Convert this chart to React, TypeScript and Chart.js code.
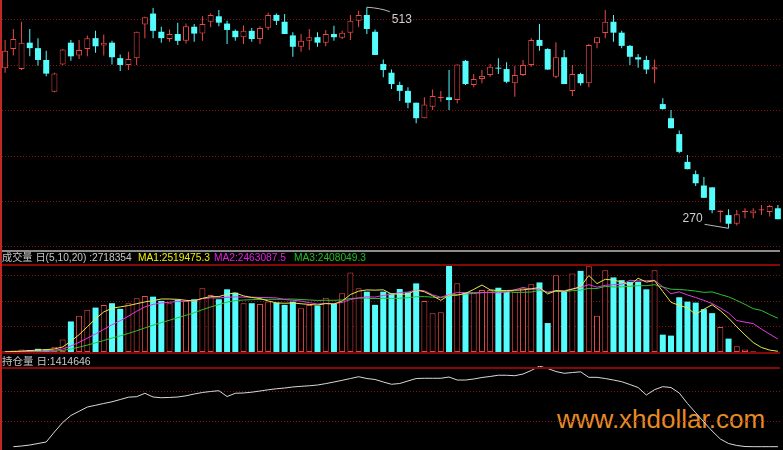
import React, { useEffect, useRef } from "react";
import { Chart, registerables } from "chart.js";

Chart.register(...registerables);

// ---------- data ----------
const OPEN = [
  446, 467, 445, 474, 468, 455, 420, 450, 474, 460,
  467, 479, 471, 474, 457, 449.5, 457, 494, 506, 486,
  478, 483.5, 476, 491.5, 484, 497, 503, 495, 487, 480,
  487, 478, 490.5, 504.5, 497, 482, 469.5, 476, 480, 474,
  483.5, 479.5, 485, 498, 504.5, 486, 450.5, 441, 427.5, 421,
  408, 391, 403.5, 413.5, 414, 411, 454, 427.5, 434, 438.5,
  446.5, 445, 429.5, 438.5, 449.5, 477, 467, 436.5, 458, 421,
  439.5, 429.5, 473.5, 484.5, 497, 485, 470.5, 458, 455, 444.5,
  406.5, 391, 373.5, 343, 329.5, 317, 315, 288, 284.5, 275,
  287.5, 286.5, 289.5, 288, 292,
];
const HIGH = [
  477, 489, 497, 489, 479, 465, 441, 467, 477, 477,
  482, 487, 483, 476, 461, 464, 486, 502.5, 512, 491.5,
  488.5, 496, 495, 494.5, 503, 506, 510, 498, 488.5, 493,
  490, 492, 507, 506, 505.5, 485.5, 483.5, 489, 485.5, 488,
  492.5, 487, 504.5, 509, 513, 488.5, 455.5, 444.5, 431, 425,
  408, 414, 422.5, 421, 444, 450, 455, 439.5, 444, 450.5,
  457, 452.5, 448.5, 455, 479, 494.5, 468, 474.5, 466, 449.5,
  441, 472.5, 480, 510, 504.5, 487, 471.5, 461.5, 459.5, 455.5,
  413, 400, 377.5, 350.5, 333.5, 326.5, 315, 289.5, 291, 290,
  292, 292, 295.5, 295.5, 295.5,
];
const LOW = [
  441, 460, 444, 459, 449, 437, 419.5, 449.5, 454, 456,
  459, 463, 460, 450, 443, 444, 449.5, 479, 479, 474,
  475, 471.5, 473, 475, 476, 491, 492, 472.5, 476, 472.5,
  475, 472.5, 488, 493.5, 483.5, 458.5, 464, 466, 469.5, 470,
  476, 478, 477, 491, 483.5, 460.5, 436, 423, 410, 402,
  385.5, 391, 400, 409, 400, 407.5, 427.5, 425, 429.5, 436.5,
  439.5, 429.5, 414.5, 437.5, 447.5, 465, 444, 435, 428.5, 415.5,
  427, 425, 468, 479, 475, 468, 449.5, 446.5, 439.5, 429.5,
  400.5, 380, 352.5, 335, 316.5, 303.5, 286.5, 276.5, 270, 273,
  281, 281, 284.5, 283, 280,
];
const CLOSE = [
  465, 478, 474, 468, 455, 440, 440, 466.5, 459, 466,
  479, 470, 474, 458, 449.5, 456, 486, 502, 487, 479,
  483.5, 476, 492, 484, 494.5, 504.5, 496, 488, 480, 487,
  478, 490, 504.5, 498, 483.5, 469.5, 476, 480, 474, 483.5,
  480, 485, 498, 504.5, 489, 460.5, 444, 428.5, 421, 408,
  391, 406, 415.5, 414, 411, 450, 428.5, 434, 437.5, 447.5,
  445.5, 431, 438.5, 449.5, 477, 470.5, 444.5, 458, 428.5, 439.5,
  429.5, 471.5, 480, 497, 485, 470.5, 458.5, 455.5, 444.5, 447,
  401, 380, 354, 335, 319.5, 303.5, 290, 289.5, 275, 285.5,
  289, 289.5, 291, 294.5, 280,
];
const VOLUME = [
  30000, 58000, 97000, 78000, 124000, 97000, 202000, 484000, 1194000, 1415000,
  1647000, 1736000, 1841000, 1907000, 1686000, 1907000, 2101000, 2190000, 2163000, 1996000,
  1907000, 2035000, 1996000, 2062000, 2488000, 2229000, 2062000, 2450000, 2318000, 1907000,
  1907000, 1880000, 1969000, 1930000, 1841000, 1969000, 1713000, 1841000, 1814000, 2124000,
  1880000, 2295000, 3109000, 2488000, 2357000, 1841000, 2357000, 2295000, 2461000, 2333000,
  2682000, 1996000, 1519000, 1558000, 3364000, 2682000, 2333000, 2295000, 2422000, 2422000,
  2512000, 2357000, 2357000, 2488000, 2643000, 2718354, 1132000, 3004000, 2357000, 3070000,
  3171000, 3353000, 1415000, 3198000, 2915000, 2810000, 2744000, 2744000, 2450000, 3198000,
  678000, 640000, 2140000, 1969000, 1930000, 1674000, 1519000, 977000, 523000, 225000,
  97000, 31000, 10000, 5000, 3000,
];
const MA5 = [
  6000, 18000, 37000, 53000, 77000, 91000, 120000, 197000, 420000, 678000,
  988000, 1295000, 1567000, 1709000, 1763000, 1815000, 1888000, 1958000, 2009000, 2071000,
  2071000, 2058000, 2019000, 1999000, 2098000, 2162000, 2167000, 2258000, 2309000, 2193000,
  2129000, 2092000, 1996000, 1919000, 1905000, 1918000, 1884000, 1859000, 1836000, 1892000,
  1874000, 1991000, 2244000, 2379000, 2426000, 2418000, 2430000, 2268000, 2262000, 2257000,
  2426000, 2353000, 2198000, 2018000, 2224000, 2224000, 2291000, 2446000, 2619000, 2431000,
  2397000, 2402000, 2414000, 2427000, 2471000, 2519475.3, 2267000, 2397000, 2370000, 2456000,
  2547000, 2991000, 2673000, 2841000, 2810000, 2738000, 2616000, 2882000, 2733000, 2789000,
  2363000, 1942000, 1821000, 1725000, 1471000, 1671000, 1846000, 1614000, 1325000, 984000,
  668000, 371000, 177000, 74000, 29000,
];
const MA10 = [
  3000, 9000, 19000, 26000, 39000, 48000, 69000, 117000, 236000, 378000,
  540000, 707000, 882000, 1065000, 1221000, 1402000, 1592000, 1762000, 1859000, 1917000,
  1943000, 1973000, 1989000, 2004000, 2085000, 2117000, 2113000, 2139000, 2154000, 2145000,
  2145000, 2130000, 2127000, 2114000, 2049000, 2023000, 1988000, 1928000, 1877000, 1899000,
  1896000, 1938000, 2052000, 2107000, 2159000, 2146000, 2211000, 2256000, 2321000, 2342000,
  2422000, 2392000, 2233000, 2140000, 2241000, 2325000, 2322000, 2322000, 2318000, 2327000,
  2310000, 2346000, 2430000, 2523000, 2451000, 2463087.5, 2334000, 2405000, 2399000, 2464000,
  2530000, 2629000, 2535000, 2606000, 2633000, 2643000, 2804000, 2778000, 2787000, 2800000,
  2551000, 2279000, 2352000, 2229000, 2130000, 2017000, 1894000, 1718000, 1525000, 1228000,
  1169000, 1109000, 896000, 699000, 506000,
];
const MA20 = [
  2000, 4000, 9000, 13000, 19000, 24000, 34000, 59000, 118000, 189000,
  271000, 358000, 450000, 546000, 630000, 725000, 830000, 940000, 1048000, 1148000,
  1242000, 1340000, 1435000, 1535000, 1653000, 1759000, 1852000, 1951000, 2007000, 2031000,
  2044000, 2052000, 2058000, 2059000, 2067000, 2070000, 2051000, 2033000, 2016000, 2022000,
  2021000, 2034000, 2089000, 2111000, 2104000, 2085000, 2100000, 2092000, 2099000, 2120000,
  2159000, 2165000, 2142000, 2124000, 2200000, 2235000, 2266000, 2289000, 2320000, 2334000,
  2366000, 2369000, 2332000, 2332000, 2346000, 2408049.3, 2329000, 2364000, 2359000, 2396000,
  2419000, 2487000, 2482000, 2564000, 2542000, 2548000, 2569000, 2591000, 2592000, 2631000,
  2540000, 2454000, 2443000, 2417000, 2381000, 2330000, 2349000, 2248000, 2156000, 2014000,
  1860000, 1694000, 1624000, 1464000, 1318000,
];
const OPEN_INTEREST = [
  null, 72000, 83000, 100000, 125000, 150000, 317000, 475000, 592000, 662000,
  733000, 762000, 792000, 820000, 858000, 897000, 905000, 962000, 900000, 888000,
  892000, 900000, 920000, 950000, 975000, 992000, 1005000, 908000, 962000, 967000,
  980000, 1000000, 1020000, 1037000, 1050000, 1067000, 1078000, 1087000, 1100000, 1123000,
  1150000, 1178000, 1208000, 1238000, 1208000, 1192000, 1150000, 1112000, 1125000, 1167000,
  1208000, 1212000, 1212000, 1212000, 1233000, 1183000, 1183000, 1200000, 1225000, 1242000,
  1263000, 1262000, 1255000, 1283000, 1342000, 1414646, 1375000, 1325000, 1295000, 1308000,
  1320000, 1228000, 1228000, 1208000, 1183000, 1155000, 1108000, 1058000, 933000, 1022000,
  1072000, 1058000, 967000, 792000, 637000, 483000, 333000, 200000, 125000, 92000,
  75000, 72000, 72000, 72000, 72000,
];
const DAYS = OPEN.map((_, i) => String(i + 1));

const PRICE_GRID = [250, 300, 350, 400, 450, 500];
const VOLUME_GRID = [1000000, 2000000, 3000000];
const OI_GRID = [500000, 1000000];

const VOLUME_TITLE = "成交量 日(5,10,20) :2718354";
const MA1_TEXT = "MA1:2519475.3";
const MA2_TEXT = "MA2:2463087.5";
const MA3_TEXT = "MA3:2408049.3";
const OI_TITLE = "持仓量 日:1414646";
const WATERMARK = "www.xhdollar.com";

// ---------- styles ----------
const UP = "#e84a4a";
const DOWN = "#54fcfc";
const GRID = "#8a1010";
const PANE_LINE = "#850808";
const MA1_COLOR = "#e8e84c";
const MA2_COLOR = "#e03ce0";
const MA3_COLOR = "#2fc12f";
const FONT = '"Liberation Sans", "Noto Sans CJK SC", sans-serif';

function dottedGrid(id: string, values: number[]) {
  return {
    id,
    beforeDatasetsDraw(chart: any) {
      const { ctx } = chart;
      const ys = chart.scales.y;
      ctx.save();
      ctx.strokeStyle = GRID;
      ctx.lineWidth = 1;
      ctx.setLineDash([1, 2]);
      values.forEach((v) => {
        const py = Math.round(ys.getPixelForValue(v)) + 0.5;
        ctx.beginPath();
        ctx.moveTo(2, py);
        ctx.lineTo(780, py);
        ctx.stroke();
      });
      ctx.restore();
    },
  };
}

const extremes = {
  id: "extremes",
  afterDatasetsDraw(chart: any) {
    const { ctx } = chart;
    const xs = chart.scales.x;
    const ys = chart.scales.y;
    let hi = 0;
    let lo = 0;
    HIGH.forEach((h, i) => {
      if (h > HIGH[hi]) hi = i;
    });
    LOW.forEach((l, i) => {
      if (l < LOW[lo]) lo = i;
    });
    ctx.save();
    ctx.strokeStyle = "#b8b8b8";
    ctx.fillStyle = "#d0d0d0";
    ctx.lineWidth = 1;
    ctx.font = "12px " + FONT;
    const hx = xs.getPixelForValue(hi);
    const hy = ys.getPixelForValue(HIGH[hi]);
    ctx.beginPath();
    ctx.moveTo(hx, hy);
    ctx.quadraticCurveTo(hx + 14, hy + 1, hx + 23, hy + 4.5);
    ctx.stroke();
    ctx.textAlign = "left";
    ctx.textBaseline = "alphabetic";
    ctx.fillText(String(HIGH[hi]), hx + 25, hy + 15.5);
    const lx = xs.getPixelForValue(lo);
    const ly = ys.getPixelForValue(LOW[lo]);
    ctx.beginPath();
    ctx.moveTo(lx, ly);
    ctx.lineTo(lx - 24, ly - 4);
    ctx.stroke();
    ctx.textAlign = "right";
    ctx.fillText(String(LOW[lo]), lx - 26, ly - 6.5);
    ctx.restore();
  },
};

export default function App() {
  const priceRef = useRef<HTMLCanvasElement>(null);
  const volRef = useRef<HTMLCanvasElement>(null);
  const oiRef = useRef<HTMLCanvasElement>(null);

  useEffect(() => {
    const up = OPEN.map((o, i) => CLOSE[i] >= o);
    const fill = up.map((u) => (u ? "#000000" : DOWN));
    const edge = up.map((u) => (u ? UP : DOWN));
    const edgeW = up.map((u) => (u ? 1 : 0));
    const bodies = OPEN.map((o, i) => {
      const c = CLOSE[i];
      if (Math.abs(c - o) < 1) {
        const m = (o + c) / 2;
        return [m - 0.5, m + 0.5];
      }
      return [o, c];
    });
    const wicks = LOW.map((l, i) => [l, HIGH[i]]);

    const common: any = {
      animation: false,
      responsive: false,
      maintainAspectRatio: false,
      events: [],
      layout: { padding: { left: 1, right: 1, top: 0, bottom: 0 } },
      plugins: { legend: { display: false }, tooltip: { enabled: false } },
    };

    const priceChart = new Chart(priceRef.current as HTMLCanvasElement, {
      type: "bar",
      data: {
        labels: DAYS,
        datasets: [
          {
            data: bodies as any,
            backgroundColor: fill,
            borderColor: edge,
            borderWidth: edgeW,
            borderSkipped: false,
            barThickness: 6,
            grouped: false,
            inflateAmount: 0,
            order: 0,
          } as any,
          {
            data: wicks as any,
            backgroundColor: edge,
            borderWidth: 0,
            barThickness: 1,
            grouped: false,
            inflateAmount: 0,
            order: 1,
          } as any,
        ],
      },
      options: {
        ...common,
        scales: {
          x: { display: false, offset: true },
          y: { display: false, min: 246.15, max: 520.9 },
        },
      },
      plugins: [dottedGrid("priceGrid", PRICE_GRID), extremes],
    });

    const volChart = new Chart(volRef.current as HTMLCanvasElement, {
      type: "bar",
      data: {
        labels: DAYS,
        datasets: [
          {
            type: "line",
            data: MA5,
            borderColor: MA1_COLOR,
            borderWidth: 1,
            pointRadius: 0,
            order: 0,
          } as any,
          {
            type: "line",
            data: MA10,
            borderColor: MA2_COLOR,
            borderWidth: 1,
            pointRadius: 0,
            order: 1,
          } as any,
          {
            type: "line",
            data: MA20,
            borderColor: MA3_COLOR,
            borderWidth: 1,
            pointRadius: 0,
            order: 2,
          } as any,
          {
            type: "bar",
            data: VOLUME,
            backgroundColor: fill,
            borderColor: edge,
            borderWidth: edgeW,
            borderSkipped: false,
            barThickness: 6,
            inflateAmount: 0,
            order: 3,
          } as any,
        ],
      },
      options: {
        ...common,
        scales: {
          x: { display: false, offset: true },
          y: { display: false, min: 0, max: 3400000 },
        },
      },
      plugins: [dottedGrid("volGrid", VOLUME_GRID)],
    });

    const oiChart = new Chart(oiRef.current as HTMLCanvasElement, {
      type: "line",
      data: {
        labels: DAYS,
        datasets: [
          {
            data: OPEN_INTEREST,
            borderColor: "#d8d8d8",
            borderWidth: 1,
            pointRadius: 0,
          } as any,
        ],
      },
      options: {
        ...common,
        scales: {
          x: { display: false, offset: true },
          y: { display: false, min: 16667, max: 1416667 },
        },
      },
      plugins: [dottedGrid("oiGrid", OI_GRID)],
    });

    return () => {
      priceChart.destroy();
      volChart.destroy();
      oiChart.destroy();
    };
  }, []);

  const abs = (extra: React.CSSProperties): React.CSSProperties => ({
    position: "absolute",
    ...extra,
  });
  const label = (left: number, top: number, color: string, size = 10.5): React.CSSProperties =>
    abs({
      left,
      top,
      color,
      fontFamily: FONT,
      fontSize: size,
      lineHeight: "12px",
      whiteSpace: "pre",
    });

  return (
    <div
      style={{
        position: "fixed",
        left: 0,
        top: 0,
        width: 783,
        height: 450,
        background: "#000",
        overflow: "hidden",
      }}
    >
      <canvas ref={priceRef} width={783} height={250} style={abs({ left: 0, top: 0, width: 783, height: 250 })} />
      <canvas ref={volRef} width={783} height={87} style={abs({ left: 0, top: 265, width: 783, height: 87 })} />
      <div
        style={abs({
          left: 557,
          top: 406,
          fontFamily: FONT,
          fontSize: 26,
          lineHeight: "26px",
          color: "#e58b26",
          whiteSpace: "pre",
        })}
      >
        {WATERMARK}
      </div>
      <canvas ref={oiRef} width={783} height={84} style={abs({ left: 0, top: 366, width: 783, height: 84 })} />

      <div style={abs({ left: 2, top: 250, width: 778, height: 2, background: "#8c8c8c" })} />
      <div style={abs({ left: 2, top: 264, width: 778, height: 2, background: PANE_LINE })} />
      <div style={abs({ left: 2, top: 352, width: 778, height: 2, background: PANE_LINE })} />
      <div style={abs({ left: 2, top: 367, width: 778, height: 2, background: PANE_LINE })} />
      <div style={abs({ left: 0, top: 0, width: 2, height: 450, background: "#c02828" })} />

      <div style={label(2, 252, "#c8c8c8", 10.2)}>{VOLUME_TITLE}</div>
      <div style={label(138, 252, "#f0f000", 10.2)}>{MA1_TEXT}</div>
      <div style={label(214, 252, "#e020e0", 10.2)}>{MA2_TEXT}</div>
      <div style={label(294, 252, "#20c020", 10.2)}>{MA3_TEXT}</div>
      <div style={label(2, 355, "#c8c8c8", 10.5)}>{OI_TITLE}</div>
    </div>
  );
}
